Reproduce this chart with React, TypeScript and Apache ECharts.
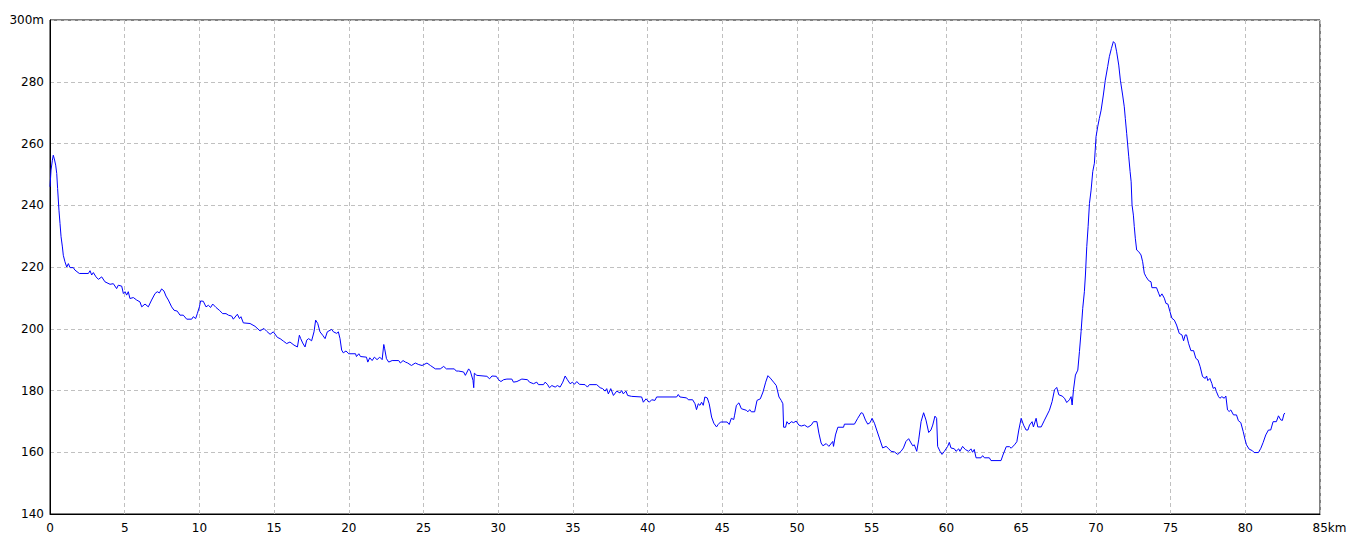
import React, { useEffect, useRef } from "react";
import * as echarts from "echarts";

const distanceKm: number[] = [
  0, 0.07, 0.16, 0.22, 0.29, 0.38, 0.45, 0.51, 0.6, 0.67, 0.74, 0.83, 0.89, 1.0, 1.12, 1.23, 1.34, 1.56, 1.67, 1.96,
  2.57, 2.68, 2.79, 2.9, 3.08, 3.24, 3.46, 3.68, 4.02, 4.24, 4.46, 4.57, 4.8, 4.91, 5.02, 5.13, 5.24, 5.35, 5.58, 5.8,
  6.02, 6.14, 6.36, 6.58, 6.8, 7.03, 7.18, 7.32, 7.47, 7.63, 7.76, 7.92, 8.14, 8.3, 8.52, 8.7, 8.92, 9.15, 9.48, 9.59,
  9.75, 9.86, 10.0, 10.08, 10.26, 10.44, 10.6, 10.75, 10.89, 11.11, 11.33, 11.56, 11.78, 11.94, 12.16, 12.27, 12.54, 12.68, 12.78, 12.94,
  13.39, 13.72, 14.06, 14.32, 14.5, 14.73, 14.95, 15.22, 15.4, 15.62, 15.84, 16.06, 16.33, 16.56, 16.69, 16.78, 16.91, 17.07, 17.18, 17.31,
  17.51, 17.67, 17.78, 17.92, 18.07, 18.25, 18.41, 18.56, 18.85, 18.97, 19.19, 19.3, 19.41, 19.52, 19.63, 19.81, 20.0,
  20.45, 20.51, 20.67, 20.78, 21.18, 21.27, 21.4, 21.56, 21.71, 21.89, 22.07, 22.23, 22.34, 22.4, 22.52, 22.67, 22.9, 23.34, 23.45,
  23.63, 23.79, 23.94, 24.19, 24.45, 24.68, 24.9, 25.23, 25.46, 25.79, 26.12, 26.35, 26.53, 27.06, 27.19, 27.35, 27.68, 27.8, 28.02,
  28.13, 28.31, 28.36, 28.4, 28.57, 29.24, 29.42, 29.58, 29.87, 30.02, 30.18, 30.36, 30.58, 30.91, 31.02, 31.25, 31.58, 31.96, 32.09,
  32.36, 32.58, 32.69, 33.03, 33.14, 33.29, 33.43, 33.59, 33.81, 33.96, 34.14, 34.32, 34.48, 34.63, 34.81, 34.97, 35.1, 35.26, 35.43,
  35.81, 35.97, 36.1, 36.59, 36.82, 36.99, 37.15, 37.26, 37.37, 37.53, 37.71, 37.93, 38.15, 38.26, 38.37, 38.55, 38.66, 38.93, 39.6,
  39.71, 39.89, 40.11, 40.27, 40.49, 40.6, 41.94, 42.05, 42.16, 42.61, 42.72, 43.01, 43.17, 43.27, 43.39, 43.5, 43.61, 43.72, 43.83,
  43.99, 44.12, 44.28, 44.43, 44.61, 44.72, 44.88, 45.32, 45.46,
  45.6, 45.76, 45.82, 45.94, 46.11, 46.27, 46.6, 46.71, 46.83, 46.94, 47.16, 47.32, 47.54, 47.72, 47.9, 48.05, 48.21, 48.43, 48.61,
  48.79, 48.94, 49.05, 49.1, 49.23, 49.32, 49.45, 49.61, 49.77, 49.94, 50.12, 50.28, 50.5, 50.72, 50.95, 51.1, 51.33, 51.46, 51.61,
  51.73, 51.95, 52.13, 52.39, 52.44, 52.57, 52.73, 53.11, 53.17, 53.84, 54.06, 54.29, 54.4, 54.58, 54.73, 54.89, 55.02, 55.18, 55.33,
  55.51, 55.73, 55.96, 56.14, 56.29, 56.52, 56.74, 56.96, 57.12, 57.29, 57.47, 57.63, 57.74, 57.85, 58.01, 58.14, 58.3, 58.47, 58.63,
  58.81, 58.96, 59.08, 59.23, 59.34, 59.41, 59.57, 59.7, 59.86, 59.97, 60.08, 60.19, 60.3, 60.53, 60.64, 60.82, 60.9, 61.08, 61.26,
  61.48, 61.64, 61.75, 61.86, 61.98, 62.31, 62.42, 62.54, 62.87, 62.98, 63.65,
  63.78, 64.0, 64.22, 64.33, 64.55, 64.71, 64.84, 65.0, 65.16, 65.33, 65.45, 65.56, 65.73, 65.82, 66.0, 66.11, 66.34, 66.56, 66.89,
  67.07, 67.23, 67.38, 67.52, 67.74, 67.9, 68.05, 68.23, 68.34, 68.41, 68.5, 68.63, 68.79, 68.9, 69.01, 69.12, 69.23, 69.3, 69.39,
  69.48, 69.57, 69.68, 69.79, 69.9, 70.01, 70.12, 70.23, 70.35, 70.5, 70.63, 70.79, 70.9, 71.04, 71.17, 71.28, 71.39, 71.53, 71.64,
  71.79, 71.9, 71.97, 72.06, 72.13, 72.2, 72.29, 72.36, 72.42, 72.51, 72.57, 72.64, 72.73, 72.86, 73.02, 73.13, 73.24, 73.35, 73.53,
  73.69, 73.75, 74.06, 74.2, 74.29, 74.42, 74.58, 74.69, 74.82, 74.96, 75.09, 75.25, 75.4, 75.58, 75.76, 75.87, 75.98, 76.07, 76.2,
  76.36, 76.54, 76.69, 76.83, 76.98, 77.14, 77.32, 77.41, 77.49, 77.63, 77.76, 77.85, 77.98, 78.07, 78.21, 78.3, 78.43, 78.59, 78.7,
  78.81, 78.92, 79.03, 79.21, 79.41, 79.54, 79.7, 79.86, 79.99, 80.08, 80.26, 80.48, 80.59, 80.88, 81.04, 81.19, 81.37, 81.55, 81.7,
  81.86, 82.08, 82.22, 82.37, 82.48, 82.59, 82.66,
];

const elevationM: number[] = [
  246, 251.4, 254.6, 256.2, 255, 253, 250.3, 245.4, 238.4, 234.1, 229.8, 226.5, 223.8, 221.7, 220, 221.1, 219.8, 219.8, 219, 217.9,
  217.9, 218.8, 217.4, 218.2, 216.8, 216, 216.8, 215.2, 214.4, 214.6, 213, 214.1, 213.8, 211.4, 212, 210.9, 212, 209.8, 210.1, 209.3,
  208.7, 207.1, 208, 207.1, 209.3, 211.4, 212, 211.6, 212.9, 212.2, 210.6, 209.3, 207.1, 206, 205.7, 204.4, 204.4, 203.1, 203.1, 203.9,
  203.3, 204.9, 207.1, 209, 208.9, 207.1, 207.6, 206.9, 208, 206.9, 206, 204.9, 204.9, 204.4, 204.1, 203.1, 204.7, 203.3, 203.9, 201.9,
  201.7, 200.8, 199.3, 200.1, 199.2, 198.2, 199, 197.2, 196.8, 196, 195.2, 195.7, 194.7, 194.1, 197.9, 196.8, 195.4, 194.1, 196.3, 196.8,
  196.1, 199, 202.8, 201.7, 199, 197.9, 196.8, 199, 199.8, 199, 198.5, 199, 196.8, 193.1, 192.2, 192.8, 191.9,
  191.9, 191, 191.9, 191, 190.8, 189.2, 190.6, 189.7, 190.8, 190, 190.8, 190, 194.9, 193.5, 190.3, 189.2, 189.7, 189.7, 188.9,
  189.7, 189.2, 188.9, 188.1, 188.9, 188.4, 188.1, 188.9, 188.1, 187, 187, 187.8, 187, 187, 186.3, 186.3, 186, 184.9, 187,
  186.3, 183.3, 180.9, 185.6, 184.9, 184.6, 183.8, 184.7, 184.6, 183.5, 182.9, 183.5, 183.7, 183.7, 182.7, 182.9, 183.7, 183.5, 182.7,
  182.2, 182.7, 181.9, 181.9, 182.7, 182, 180.9, 181.6, 181.1, 181.6, 181.1, 182.7, 184.7, 183.5, 182.2, 182.7, 182, 182.9, 182,
  181.9, 181.1, 181.9, 181.9, 180.9, 180.6, 179.8, 180.6, 178.9, 180.6, 178.4, 179.8, 179.2, 180, 178.9, 179.8, 178.4, 178.1, 177.9,
  176.2, 177.3, 176.2, 177, 176.8, 177.9, 177.9, 178.7, 177.9, 177.6, 177, 177, 175.7, 173.8, 175.7, 175.2, 176.2, 175.2, 177.9,
  177.6, 175.7, 171.4, 169.4, 168.2, 169, 169.8, 169.8, 169,
  171, 170.6, 172, 175.2, 176, 174.1, 173.6, 173.1, 173.8, 173.1, 173.1, 176.8, 177.3, 179.5, 182.7, 184.8, 184, 182.7, 181.6,
  177.9, 176.8, 175.7, 168.1, 168.1, 169.9, 169.1, 169.9, 169.6, 170.1, 168.8, 168.5, 168.8, 168.1, 168.8, 169.9, 169.9, 166.2, 163,
  162.1, 162.8, 161.9, 163.5, 161.9, 165.6, 168.1, 168.1, 169.1, 169.1, 171, 172.8, 172.6, 170.4, 169.1, 169.6, 171, 169.4, 167.2,
  164.6, 161.4, 161.9, 161.1, 160.3, 160.1, 159.3, 160.3, 161.4, 163.5, 164.4, 163, 162.1, 162.4, 160.3, 164, 169.9, 172.8, 170.4,
  166.4, 167.2, 168.8, 171.7, 171, 161.9, 160.3, 159.3, 160.3, 161.1, 161.9, 163.2, 161.4, 161.1, 160.3, 161.1, 160.3, 161.9, 160.9,
  160.3, 161.1, 160, 160.9, 158.2, 158.2, 158.9, 158.2, 158.2, 157.3, 157.3,
  159.1, 161.8, 161.8, 161.3, 162.4, 163.4, 167.2, 171, 168.8, 167.2, 167.2, 168.8, 169.9, 168.2, 171, 168.2, 168.2, 170.4, 173.6,
  176.4, 180.2, 181, 178.6, 178.2, 177.5, 176.1, 177, 178, 175.3, 180.2, 185, 186.6, 192.6, 199.1, 206.6, 212, 217.4, 226.6,
  233.1, 240.6, 244.9, 250.9, 253.6, 262.2, 265.4, 268.1, 270.8, 275.7, 280.5, 284.9, 288.1, 290.8, 293, 292.4, 289.7, 285.4, 280.5,
  275.7, 271.9, 268.1, 263.3, 259.5, 255.7, 250.9, 247.6, 240.1, 236.8, 233.1, 229.3, 225.5, 225, 223.9, 221.7, 218, 216.9, 215.6,
  215.2, 213.3, 213.3, 211.5, 210.4, 211.3, 209.9, 208.2, 208, 205.5, 203.4, 202.8, 201.2, 198.5, 198, 196.1, 198, 198, 195.3,
  192.9, 192.9, 190.4, 189.9, 187.7, 184.5, 183.9, 184.7, 183.2, 183.9, 182.3, 180.7, 181, 179.6, 178, 177.5, 178, 177.5, 178.2,
  173.7, 173.2, 173.7, 172.1, 172.1, 170.2, 169.6, 166.7, 164, 162.4, 161, 160.5, 159.9, 159.9, 161.3, 163.1, 165.6, 167.2, 167.2,
  169.9, 169.9, 171.8, 170.5, 170.3, 172.4, 172.7,
];

const xTicks: number[] = [0, 5, 10, 15, 20, 25, 30, 35, 40, 45, 50, 55, 60, 65, 70, 75, 80, 85];
const yTicks: number[] = [140, 160, 180, 200, 220, 240, 260, 280, 300];

export default function App() {
  const ref = useRef<HTMLDivElement>(null);

  useEffect(() => {
    if (!ref.current) return;
    const chart = echarts.init(ref.current, undefined, { renderer: "svg" });
    const points = distanceKm.map((d, i) => [d, elevationM[i]]);
    const font = "DejaVu Sans";
    chart.setOption({
      animation: false,
      backgroundColor: "#ffffff",
      grid: {
        left: 50,
        top: 20,
        right: 40,
        bottom: 30,
        show: true,
        borderColor: "#000000",
        borderWidth: 1,
        backgroundColor: "transparent",
      },
      xAxis: {
        type: "value",
        min: xTicks[0],
        max: xTicks[xTicks.length - 1],
        interval: 5,
        axisLine: { show: true, onZero: false, lineStyle: { color: "#000000", width: 1 } },
        axisTick: { show: false },
        splitLine: { show: true, lineStyle: { color: "#c0c0c0", type: [4, 3], width: 1 } },
        axisLabel: {
          color: "#000000",
          fontFamily: font,
          fontSize: 12,
          margin: 8,
          showMinLabel: true,
          showMaxLabel: true,
          formatter: (v: number) => (v === 85 ? "{u|85km}" : String(v)),
          rich: {
            u: { color: "#000000", fontFamily: font, fontSize: 12, padding: [0, 0, 0, 19] },
          },
        },
      },
      yAxis: {
        type: "value",
        min: yTicks[0],
        max: yTicks[yTicks.length - 1],
        interval: 20,
        axisLine: { show: true, onZero: false, lineStyle: { color: "#000000", width: 1 } },
        axisTick: { show: false },
        splitLine: { show: true, lineStyle: { color: "#c0c0c0", type: [4, 3], width: 1 } },
        axisLabel: {
          color: "#000000",
          fontFamily: font,
          fontSize: 12,
          margin: 6,
          showMinLabel: true,
          showMaxLabel: true,
          formatter: (v: number) => (v === 300 ? "300m" : String(v)),
        },
      },
      series: [
        {
          type: "line",
          data: points,
          showSymbol: false,
          symbol: "none",
          lineStyle: { color: "#0000ff", width: 1 },
          itemStyle: { color: "#0000ff" },
          z: 3,
        },
      ],
    });
    return () => chart.dispose();
  }, []);

  return (
    <div
      ref={ref}
      style={{ position: "absolute", left: 0, top: 0, width: 1360, height: 544, background: "#ffffff" }}
    />
  );
}
